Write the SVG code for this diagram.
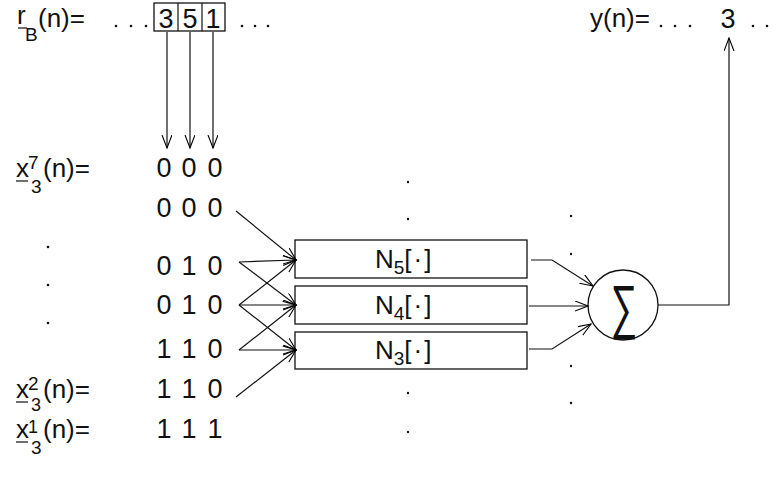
<svg xmlns="http://www.w3.org/2000/svg" width="781" height="479" viewBox="0 0 781 479">
<defs>
<marker id="ah" markerUnits="userSpaceOnUse" markerWidth="16" markerHeight="12" refX="13" refY="5" orient="auto">
<path d="M0,0 L13,5 L0,10" fill="none" stroke="#000" stroke-width="1.1"/>
</marker>
<style>
text{font-family:"Liberation Sans",Arial,sans-serif;fill:#111}
.lb{font-size:26px}
.sm{font-size:19px}
.ss{font-size:18px}
.dg{font-size:27px;text-anchor:middle}
.box{fill:none;stroke:#111;stroke-width:1.3}
.ln{fill:none;stroke:#111;stroke-width:1.2}
.ar{fill:none;stroke:#111;stroke-width:1.2;marker-end:url(#ah)}
.dot{fill:#111}
</style>
</defs>
<rect width="781" height="479" fill="#fff"/>

<g id="rB">
<text class="lb" x="17" y="24">r</text>
<line class="ln" x1="18" y1="28" x2="27" y2="28"/>
<text class="sm" x="25" y="41">B</text>
<text class="lb" x="38" y="27">(n)=</text>
<circle class="dot" cx="116" cy="26" r="1.3"/><circle class="dot" cx="131" cy="26" r="1.3"/><circle class="dot" cx="146" cy="26" r="1.3"/>
<rect class="box" x="154" y="3" width="71" height="28"/>
<line class="ln" x1="178" y1="3" x2="178" y2="31"/>
<line class="ln" x1="202" y1="3" x2="202" y2="31"/>
<text class="dg" x="166" y="28">3</text>
<text class="dg" x="190" y="28">5</text>
<text class="dg" x="213" y="28">1</text>
<circle class="dot" cx="242" cy="26" r="1.3"/><circle class="dot" cx="255" cy="26" r="1.3"/><circle class="dot" cx="268" cy="26" r="1.3"/>
</g>

<g id="yout">
<text class="lb" x="590" y="27">y(n)=</text>
<circle class="dot" cx="661" cy="26" r="1.3"/><circle class="dot" cx="675" cy="26" r="1.3"/><circle class="dot" cx="690" cy="26" r="1.3"/>
<text class="dg" x="728" y="28">3</text>
<circle class="dot" cx="753" cy="26" r="1.3"/><circle class="dot" cx="767" cy="26" r="1.3"/>
</g>

<g id="labels">
<text class="lb" x="16" y="177">x</text><line class="ln" x1="16" y1="181" x2="28" y2="181"/>
<text class="sm" x="28" y="169">7</text><text class="sm" x="31" y="193">3</text>
<text class="lb" x="43" y="177">(n)=</text>
<text class="lb" x="16" y="398">x</text><line class="ln" x1="16" y1="402" x2="28" y2="402"/>
<text class="sm" x="28" y="390">2</text><text class="ss" x="31" y="411">3</text>
<text class="lb" x="43" y="398">(n)=</text>
<text class="lb" x="16" y="438">x</text><line class="ln" x1="16" y1="442" x2="28" y2="442"/>
<text class="ss" x="28" y="433">1</text><text class="sm" x="31" y="454">3</text>
<text class="lb" x="43" y="438">(n)=</text>
<circle class="dot" cx="48" cy="247" r="1.3"/><circle class="dot" cx="48" cy="285" r="1.3"/><circle class="dot" cx="48" cy="323" r="1.3"/>
</g>

<g id="rows">
<text class="dg" x="164" y="177">0</text><text class="dg" x="189" y="177">0</text><text class="dg" x="215" y="177">0</text>
<text class="dg" x="164" y="217">0</text><text class="dg" x="189" y="217">0</text><text class="dg" x="215" y="217">0</text>
<text class="dg" x="164" y="275">0</text><text class="dg" x="189" y="275">1</text><text class="dg" x="215" y="275">0</text>
<text class="dg" x="164" y="314">0</text><text class="dg" x="189" y="314">1</text><text class="dg" x="215" y="314">0</text>
<text class="dg" x="164" y="358">1</text><text class="dg" x="189" y="358">1</text><text class="dg" x="215" y="358">0</text>
<text class="dg" x="164" y="398">1</text><text class="dg" x="189" y="398">1</text><text class="dg" x="215" y="398">0</text>
<text class="dg" x="164" y="438">1</text><text class="dg" x="189" y="438">1</text><text class="dg" x="215" y="438">1</text>
</g>

<g id="dots">
<circle class="dot" cx="408" cy="182" r="1.2"/><circle class="dot" cx="408" cy="219" r="1.2"/>
<circle class="dot" cx="408" cy="393" r="1.2"/><circle class="dot" cx="408" cy="432" r="1.2"/>
<circle class="dot" cx="571" cy="216" r="1.2"/><circle class="dot" cx="571" cy="254" r="1.2"/>
<circle class="dot" cx="571" cy="366" r="1.2"/><circle class="dot" cx="571" cy="403" r="1.2"/>
</g>

<g id="N5">
<rect class="box" x="295" y="240" width="232" height="38"/>
<text class="lb" x="375" y="268">N<tspan class="sm" dy="6">5</tspan><tspan dy="-6" letter-spacing="2">[·]</tspan></text>
</g>
<g id="N4">
<rect class="box" x="295" y="286" width="232" height="38"/>
<text class="lb" x="375" y="314">N<tspan class="sm" dy="6">4</tspan><tspan dy="-6" letter-spacing="2">[·]</tspan></text>
</g>
<g id="N3">
<rect class="box" x="295" y="332" width="232" height="37"/>
<text class="lb" x="375" y="359">N<tspan class="sm" dy="6">3</tspan><tspan dy="-6" letter-spacing="2">[·]</tspan></text>
</g>

<g id="sum">
<circle cx="623" cy="305" r="35" fill="none" stroke="#111" stroke-width="1.3"/>
<text x="624" y="321" font-family="DejaVu Sans" font-weight="200" font-size="44" text-anchor="middle" transform="translate(624,305) scale(0.85,1.35) translate(-624,-305)">∑</text>
</g>

<g id="connectors">
<line class="ar" x1="167" y1="32" x2="167" y2="148"/>
<line class="ar" x1="190" y1="32" x2="190" y2="148"/>
<line class="ar" x1="213" y1="32" x2="213" y2="148"/>
<line class="ar" x1="236" y1="211" x2="296" y2="260"/>
<line class="ar" x1="239" y1="262" x2="296" y2="260"/>
<line class="ar" x1="239" y1="262" x2="296" y2="305"/>
<line class="ar" x1="239" y1="305" x2="296" y2="260"/>
<line class="ar" x1="239" y1="305" x2="296" y2="305"/>
<line class="ar" x1="239" y1="305" x2="296" y2="350"/>
<line class="ar" x1="239" y1="350" x2="296" y2="305"/>
<line class="ar" x1="239" y1="350" x2="296" y2="350"/>
<line class="ar" x1="236" y1="397" x2="296" y2="350"/>
<polyline class="ar" points="531,260 552,260 593,286"/>
<line class="ar" x1="529" y1="306" x2="588" y2="306"/>
<polyline class="ar" points="529,349 552,349 591,324"/>
<polyline class="ar" points="658,305 729,305 729,38"/>
</g>
</svg>
